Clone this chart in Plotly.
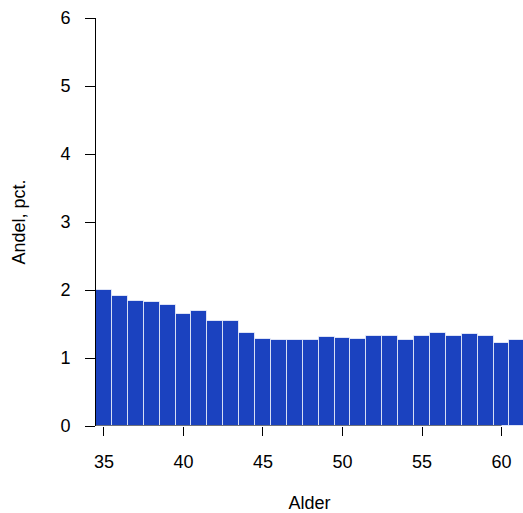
import plotly.graph_objects as go

ages = list(range(35, 62))
andel = [2.00, 1.91, 1.84, 1.82, 1.78, 1.64, 1.69, 1.55, 1.55, 1.37,
         1.28, 1.26, 1.26, 1.26, 1.31, 1.29, 1.28, 1.33, 1.33, 1.26,
         1.33, 1.37, 1.32, 1.36, 1.33, 1.22, 1.26]
x_ticks = [35, 40, 45, 50, 55, 60]
y_ticks = [0, 1, 2, 3, 4, 5, 6]
title_text = "a) Alle typer i alt (mænd 35-61 år)"

FONT = "Liberation Sans, Arial, Helvetica, sans-serif"

fig = go.Figure()
fig.add_trace(go.Bar(
    x=ages, y=andel, width=1,
    marker=dict(color="#1B42BF", line=dict(color="rgba(255,255,255,0.7)", width=1)),
    hoverinfo="x+y",
))

fig.add_shape(type="line", xref="x", yref="y", x0=34.5, x1=60, y0=0, y1=0,
              line=dict(color="black", width=1))

fig.add_annotation(xref="paper", yref="paper", x=-92/427, y=1 + 16/408,
                   xanchor="left", yanchor="bottom", showarrow=False,
                   text="<b><i>" + title_text + "</i></b>",
                   font=dict(family=FONT, size=18, color="black"))

fig.update_layout(
    width=523, height=513,
    margin=dict(l=96, r=0, t=18, b=87, autoexpand=False),
    paper_bgcolor="white", plot_bgcolor="white",
    showlegend=False, bargap=0,
    font=dict(family=FONT, size=18, color="black"),
    xaxis=dict(range=[34.5, 61.35], tickvals=x_ticks, ticks="outside", ticklen=9,
               tickcolor="black", showline=False, showgrid=False, zeroline=False,
               ticklabelstandoff=10, automargin=False,
               title=dict(text="Alder", standoff=30, font=dict(size=18))),
    yaxis=dict(range=[0, 6], tickvals=y_ticks, ticks="outside", ticklen=10,
               tickcolor="black", showline=True, linecolor="black", linewidth=1,
               showgrid=False, zeroline=False, ticklabelstandoff=11, automargin=False,
               title=dict(text="Andel, pct.", standoff=30, font=dict(size=18))),
)

fig.write_html("out.html", config={"displayModeBar": False},
               post_script="document.body.style.margin='0';document.body.style.padding='0';")
